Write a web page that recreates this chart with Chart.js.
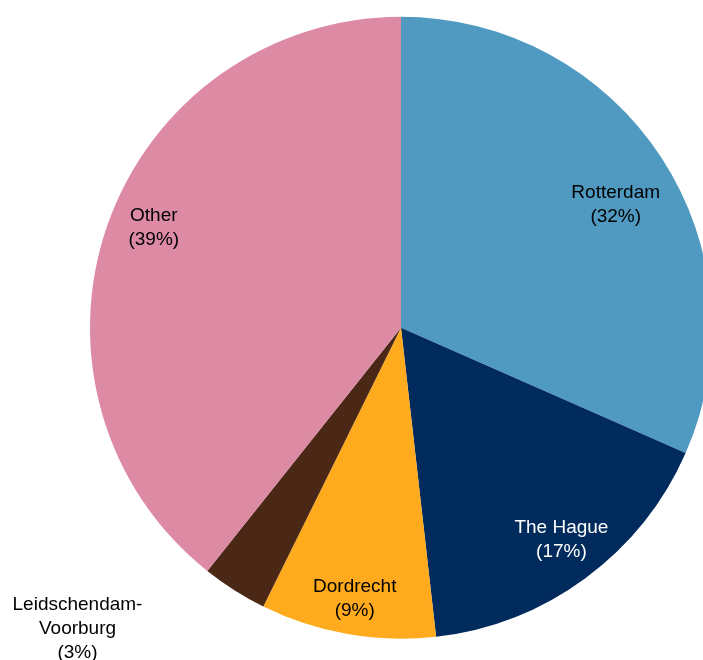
<!DOCTYPE html>
<html>
<head>
<meta charset="utf-8">
<script src="https://cdn.jsdelivr.net/npm/chart.js@4/dist/chart.umd.min.js"></script>
<style>
    html, body { margin: 0; padding: 0; background: #ffffff; overflow: hidden; }
    #wrap { width: 703px; height: 660px; overflow: hidden; position: relative; }
    #municipality-chart { position: absolute; left: 0; top: 0; }
</style>
</head>
<body>
<div id="wrap">
    <canvas id="municipality-chart" width="720" height="660"></canvas>
</div>
<script>
// Share of total by municipality (percent)
const municipalities = ['Rotterdam', 'The Hague', 'Dordrecht', 'Leidschendam-Voorburg', 'Other'];
const labelLines = [['Rotterdam'], ['The Hague'], ['Dordrecht'], ['Leidschendam-', 'Voorburg'], ['Other']];
const shares = [31.6, 16.6, 9.1, 3.4, 39.3];

const sliceColors = ['#509ac2', '#002b5c', '#ffab1d', '#4b2716', '#dd8aa4'];
const labelColors = ['#000000', '#ffffff', '#000000', '#000000', '#000000'];

// where each label sits: fraction of the radius and a small turn (degrees) off the slice middle
const labelPlacement = [
    { r: 0.795, turn: 3.4 },
    { r: 0.856, turn: -0.7 },
    { r: 0.883, turn: -0.2 },
    { r: 1.42, turn: 14.7 },
    { r: 0.857, turn: 2.7 }
];

const total = shares.reduce((a, b) => a + b, 0);

// Draws "Name (nn%)" for each slice
const sliceLabels = {
    id: 'sliceLabels',
    afterDatasetsDraw(chart) {
        const ctx = chart.ctx;
        const arcs = chart.getDatasetMeta(0).data;
        ctx.save();
        ctx.font = '19px "Liberation Sans", Arial, sans-serif';
        ctx.textAlign = 'center';
        ctx.textBaseline = 'middle';
        arcs.forEach((arc, i) => {
            const p = arc.getProps(['x', 'y', 'startAngle', 'endAngle', 'outerRadius'], true);
            const mid = (p.startAngle + p.endAngle) / 2 + labelPlacement[i].turn * Math.PI / 180;
            const dist = p.outerRadius * labelPlacement[i].r;
            const cx = p.x + Math.cos(mid) * dist;
            const cy = p.y + Math.sin(mid) * dist;
            const pct = Math.round(shares[i] / total * 100);
            const lines = labelLines[i].concat(['(' + pct + '%)']);
            const lineHeight = 24;
            const top = cy - (lines.length - 1) * lineHeight / 2;
            ctx.fillStyle = labelColors[i];
            lines.forEach((line, j) => ctx.fillText(line, cx, top + j * lineHeight));
        });
        ctx.restore();
    }
};

const ctx = document.getElementById('municipality-chart').getContext('2d');

let chart = new Chart(ctx, {
    type: 'pie',
    data: {
        labels: municipalities,
        datasets: [{
            data: shares,
            backgroundColor: sliceColors,
            borderWidth: 0
        }]
    },
    options: {
        responsive: false,
        animation: false,
        layout: {
            padding: { left: 90, right: 8, top: 16.7, bottom: 21.3 }
        },
        plugins: {
            legend: { display: false },
            tooltip: { enabled: false }
        }
    },
    plugins: [sliceLabels]
});
</script>
</body>
</html>
